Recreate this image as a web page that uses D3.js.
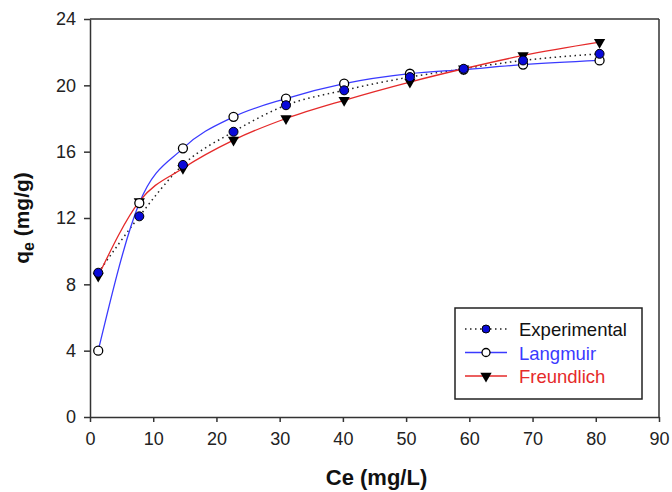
<!DOCTYPE html>
<html>
<head>
<meta charset="utf-8">
<script src="https://cdnjs.cloudflare.com/ajax/libs/d3/7.8.5/d3.min.js"></script>
<style>
  body { margin: 0; background: #fff; }
  svg text { font-family: Arial, "Liberation Sans", sans-serif; }
</style>
</head>
<body>
<div class="canvas"></div>
<script>
/* adsorption isotherm: experimental vs Langmuir / Freundlich fits */

var ce      = [1.3, 7.8, 14.7, 22.7, 31.0, 40.2, 50.6, 59.1, 68.5, 80.6];
var qExp    = [8.7, 12.1, 15.2, 17.2, 18.8, 19.7, 20.5, 21.0, 21.5, 21.9];
var qLang   = [4.0, 12.9, 16.2, 18.1, 19.2, 20.1, 20.7, 20.95, 21.25, 21.5];
var qFreund = [8.5, 13.0, 15.0, 16.7, 18.0, 19.1, 20.2, 21.0, 21.8, 22.6];
var xTicks = [0, 10, 20, 30, 40, 50, 60, 70, 80, 90];
var yTicks = [0, 4, 8, 12, 16, 20, 24];
var seriesNames = ['Experimental', 'Langmuir', 'Freundlich'];

var W = 672, H = 492;
var margin = {t:19, r:13, b:75, l:90};
var width = W - margin.l - margin.r,
    height = H - margin.t - margin.b;

var svg = d3.select('.canvas')
    .append('svg')
    .attr('width', W)
    .attr('height', H);

var canvas = svg.append('g')
    .attr('transform', 'translate(' + margin.l + ',' + margin.t + ')');

var x = d3.scaleLinear().domain([0, 90]).range([0, width]);
var y = d3.scaleLinear().domain([0, 24]).range([height, 0]);

var axisColor = '#333';

// box (top + right)
canvas.append('line')
    .attr('x1', 0).attr('x2', width).attr('y1', 0).attr('y2', 0)
    .style('stroke', axisColor).style('stroke-width', 1.5);
canvas.append('line')
    .attr('x1', width).attr('x2', width).attr('y1', 0).attr('y2', height)
    .style('stroke', axisColor).style('stroke-width', 1.5);

var yAxis = canvas.append('g')
    .call(d3.axisLeft(y).tickValues(yTicks).tickSize(6).tickSizeOuter(0).tickPadding(8));
var xAxis = canvas.append('g')
    .attr('transform', 'translate(0,' + height + ')')
    .call(d3.axisBottom(x).tickValues(xTicks).tickSize(5).tickSizeOuter(0).tickPadding(10));

[xAxis, yAxis].forEach(function(a){
    a.select('.domain').style('stroke', axisColor).style('stroke-width', 1.5);
    a.selectAll('.tick line').style('stroke', axisColor).style('stroke-width', 1.5);
    a.selectAll('.tick text')
        .style('font-size', '18px')
        .style('fill', '#222')
        .style('font-family', 'Arial, "Liberation Sans", sans-serif');
});

// axis titles
svg.append('text')
    .attr('x', margin.l + width / 2 + 2)
    .attr('y', 485)
    .attr('text-anchor', 'middle')
    .style('font-size', '22px')
    .style('font-weight', 'bold')
    .style('fill', '#111')
    .text('Ce (mg/L)');

var yt = svg.append('text')
    .attr('transform', 'translate(29,' + (margin.t + height / 2) + ') rotate(-90)')
    .attr('text-anchor', 'middle')
    .style('font-size', '21px')
    .style('font-weight', 'bold')
    .style('fill', '#111');
yt.append('tspan').text('q');
yt.append('tspan').attr('dy', 5).style('font-size', '16px').text('e');
yt.append('tspan').attr('dy', -5).text(' (mg/g)');

// series
var blue = '#3a3aff', red = '#e52a2a', navy = '#0a0ad8';

function pts(vals){
    return ce.map(function(c, i){ return {x:c, y:vals[i]}; });
}
var line = d3.line()
    .x(function(d){ return x(d.x); })
    .y(function(d){ return y(d.y); })
    .curve(d3.curveMonotoneX);

canvas.append('path')
    .attr('d', line(pts(qExp)))
    .style('fill', 'none').style('stroke', '#222')
    .style('stroke-width', 1.5).style('stroke-dasharray', '1.5,3.5');
canvas.append('path')
    .attr('d', line(pts(qLang)))
    .style('fill', 'none').style('stroke', blue).style('stroke-width', 1.3);
canvas.append('path')
    .attr('d', line(pts(qFreund)))
    .style('fill', 'none').style('stroke', red).style('stroke-width', 1.3);

var tri = d3.symbol().type(d3.symbolTriangle).size(55);

function drawTri(sel){
    sel.append('path')
        .attr('d', tri)
        .attr('transform', function(d){ return 'translate(' + x(d.x) + ',' + y(d.y) + ') rotate(180)'; })
        .style('fill', '#000');
}
function drawOpen(sel){
    sel.append('circle')
        .attr('cx', function(d){ return x(d.x); })
        .attr('cy', function(d){ return y(d.y); })
        .attr('r', 4.5)
        .style('fill', '#fff').style('stroke', '#000').style('stroke-width', 1.3);
}
function drawFilled(sel){
    sel.append('circle')
        .attr('cx', function(d){ return x(d.x); })
        .attr('cy', function(d){ return y(d.y); })
        .attr('r', 4.5)
        .style('fill', navy).style('stroke', '#000').style('stroke-width', 1);
}

canvas.append('g').selectAll('g').data(pts(qFreund)).enter().append('g').call(drawTri);
canvas.append('g').selectAll('g').data(pts(qLang)).enter().append('g').call(drawOpen);
canvas.append('g').selectAll('g').data(pts(qExp)).enter().append('g').call(drawFilled);

// legend
var legend = svg.append('g').attr('transform', 'translate(455,308)');
legend.append('rect')
    .attr('width', 187).attr('height', 91)
    .style('fill', '#fff').style('stroke', '#222').style('stroke-width', 1.5);

var legColors = ['#111', blue, red];
seriesNames.forEach(function(name, i){
    var ly = 21 + i * 23.5;
    var g = legend.append('g').attr('transform', 'translate(0,' + ly + ')');
    var ln = g.append('line')
        .attr('x1', 10).attr('x2', 52).attr('y1', 0).attr('y2', 0)
        .style('stroke-width', 1.5);
    if (i === 0) ln.style('stroke', '#222').style('stroke-dasharray', '1.5,3.5');
    else ln.style('stroke', legColors[i]);
    var m = g.append('g');
    if (i === 0) m.append('circle').attr('cx', 31).attr('r', 4).style('fill', navy).style('stroke', '#000');
    if (i === 1) m.append('circle').attr('cx', 31).attr('r', 4).style('fill', '#fff').style('stroke', '#000').style('stroke-width', 1.3);
    if (i === 2) m.append('path').attr('d', tri).attr('transform', 'translate(31,0) rotate(180)').style('fill', '#000');
    g.append('text')
        .attr('x', 64).attr('y', 7)
        .style('font-size', '18.5px')
        .style('fill', legColors[i])
        .text(name);
});
</script>
</body>
</html>
